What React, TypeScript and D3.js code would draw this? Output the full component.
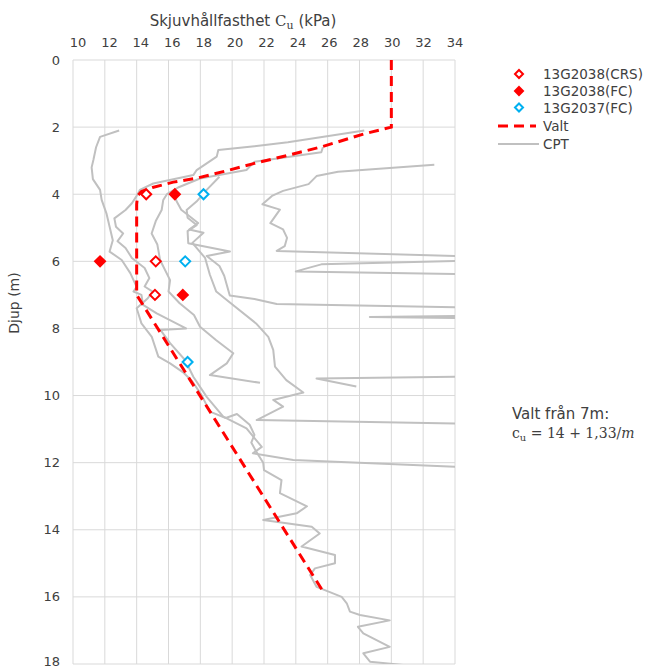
import React from "react";
import * as d3 from "d3";

const xTicks = [10, 12, 14, 16, 18, 20, 22, 24, 26, 28, 30, 32, 34];
const yTicks = [0, 2, 4, 6, 8, 10, 12, 14, 16, 18];

// [cu, depth]
const crs: [number, number][] = [[14.6, 4], [15.2, 6], [15.15, 7]];
const fc2038: [number, number][] = [[16.4, 4], [11.7, 6], [16.9, 7]];
const fc2037: [number, number][] = [[18.2, 4], [17.05, 6], [17.2, 9]];

const valt: [number, number][] = [
  [30, 0], [30, 2], [28.3, 2.2], [25.6, 2.59], [23.5, 2.84], [21.4, 3.08], [19.5, 3.32],
  [17.8, 3.52], [16.3, 3.64], [15.0, 3.8], [14.3, 3.92], [14.05, 4.05], [14, 4.3], [14, 7], [25.7, 15.83],
];

const cpt1: [number, number][] = [
  [12.9, 2.1], [11.7, 2.29], [11.45, 2.6], [11.28, 2.98], [11.17, 3.2], [11.25, 3.55], [11.7, 3.87],
  [11.8, 4.17], [12.1, 4.57], [12.3, 4.97], [12.5, 5.37], [12.3, 5.71], [13.06, 5.96], [13.6, 6.35],
  [14.0, 6.76], [13.8, 6.9], [14.3, 7.0], [14.4, 7.3], [15.26, 7.55], [17.1, 8.0], [15.5, 8.05],
  [16.1, 8.44], [17.04, 8.94], [17.56, 9.44], [18.4, 10.04], [19.44, 10.63], [20.9, 10.98],
  [21.86, 11.53], [21.3, 11.72], [23.84, 11.92], [34, 12.12], [36, 12.13],
];

const cpt2: [number, number][] = [
  [25.7, 2.6], [25.6, 2.75], [21.4, 3.03], [20.9, 3.28], [17.98, 3.53], [16.6, 3.8], [15.9, 4.0],
  [15.67, 4.17], [15.57, 4.47], [15.2, 4.8], [14.94, 5.17], [15.3, 5.5], [15.47, 5.96], [16.1, 6.56],
  [16.0, 6.9], [16.7, 7.25], [17.6, 7.6], [17.98, 7.95], [19.0, 8.35], [20.07, 8.74], [19.66, 9.04],
  [18.6, 9.39], [21.75, 9.62],
];

const cpt3: [number, number][] = [
  [28.3, 2.1], [23.5, 2.45], [21.4, 2.57], [19.13, 2.68], [19.03, 2.88], [17.77, 3.28], [17.56, 3.43],
  [15.04, 3.68], [14.2, 3.87], [14.0, 4.05], [13.7, 4.27], [13.3, 4.47], [12.6, 4.72], [12.7, 4.97],
  [13.15, 5.17], [12.8, 5.4], [13.3, 5.6], [13.7, 5.9], [14.5, 6.2], [14.8, 6.5], [14.5, 6.75],
  [15.0, 6.9], [14.7, 7.1], [14.0, 7.4], [14.3, 7.85], [14.95, 8.25], [15.36, 8.84], [16.1, 9.04],
  [16.9, 9.3], [17.5, 9.58], [18.07, 9.98], [18.6, 10.48], [19.6, 10.67], [20.3, 10.55], [21.1, 10.87],
  [21.4, 11.17], [21.2, 11.4], [21.5, 11.66], [21.95, 12.0], [22.0, 12.22], [23.1, 12.52], [23.0, 12.91],
  [24.7, 13.3], [24.05, 13.51], [21.95, 13.71], [25.0, 13.91], [25.5, 14.11], [24.36, 14.5],
  [26.46, 14.75], [26.46, 15.0], [25.2, 15.15], [24.9, 15.35], [25.3, 15.7], [26.1, 15.85],
  [26.88, 16.0], [27.2, 16.19], [27.4, 16.44], [28.03, 16.54], [29.9, 16.7], [27.9, 16.89],
  [28.24, 17.09], [29.9, 17.49], [28.24, 17.68], [28.66, 17.93], [30.75, 18.03], [32, 18.1],
];

const cpt4: [number, number][] = [
  [19.2, 3.48], [18.4, 3.87], [17.76, 4.22], [17.14, 4.47], [17.2, 4.7], [17.77, 4.92], [17.2, 5.1],
  [17.24, 5.46], [19.86, 5.71], [18.4, 5.84], [19.2, 6.14], [19.5, 6.43], [19.85, 7.02], [21.4, 7.12],
  [22.8, 7.27], [34, 7.37], [36, 7.38],
];

const cpt5: [number, number][] = [
  [16.3, 3.9], [16.5, 4.2], [16.8, 4.46], [17.86, 4.86], [17.3, 5.05], [18.2, 5.15], [17.5, 5.45],
  [18.3, 5.9], [18.6, 6.4], [19.0, 6.9], [19.66, 7.15], [21.5, 7.85], [22.27, 8.25], [22.58, 8.64],
  [22.69, 9.14], [23.4, 9.54], [24.47, 9.91], [22.58, 10.13], [23.2, 10.33], [21.54, 10.73],
  [34, 10.83], [36, 10.84],
];

const cptR: [number, number][] = [
  [32.7, 3.12], [26.65, 3.33], [25.3, 3.46], [24.8, 3.7], [23.2, 3.9], [22.5, 4.05], [21.9, 4.3],
  [23.0, 4.46], [22.4, 4.86], [23.2, 5.05], [23.45, 5.3], [23.3, 5.55], [22.8, 5.69], [34, 5.84],
  [36, 5.86], [36, 5.97], [34, 5.99], [25.6, 6.09], [24.0, 6.3], [34, 6.38], [36, 6.4], [36, 7.62],
  [34, 7.63], [28.65, 7.66], [34, 7.69], [36, 7.7], [36, 9.42], [34, 9.44], [25.3, 9.49], [27.8, 9.73],
];

const cptSeries = [cpt1, cpt2, cpt3, cpt4, cpt5, cptR];

const legendLabels = ["13G2038(CRS)", "13G2038(FC)", "13G2037(FC)", "Valt", "CPT"];

const W = 652;
const H = 669;
const X0 = 73, X1 = 455, Y0 = 60, Y1 = 664;
const FONT = "'DejaVu Sans', Verdana, sans-serif";
const TEXT = "#404040";

function Diamond({ cx, cy, fill, stroke, r = 5 }: { cx: number; cy: number; fill: string; stroke: string; r?: number }) {
  const d = `M${cx},${cy - r}L${cx + r},${cy}L${cx},${cy + r}L${cx - r},${cy}Z`;
  return <path d={d} fill={fill} stroke={stroke} strokeWidth={2} />;
}

export default function App() {
  const x = d3.scaleLinear().domain([10, 34]).range([X0, X1]);
  const xLab = d3.scaleLinear().domain([10, 34]).range([78, 455]);
  const y = d3.scaleLinear().domain([0, 18]).range([Y0, Y1]);
  const line = d3.line<[number, number]>().x((d) => x(d[0])).y((d) => y(d[1]));

  return (
    <svg width={W} height={H} style={{ position: "absolute", left: 0, top: 0, background: "#fff" }}>
      <defs>
        <clipPath id="plot">
          <rect x={X0} y={Y0} width={X1 - X0} height={Y1 - Y0} />
        </clipPath>
      </defs>
      {/* grid */}
      {xTicks.map((t) => (
        <line key={"gx" + t} x1={x(t)} x2={x(t)} y1={Y0} y2={Y1} stroke="#d9d9d9" strokeWidth={1} />
      ))}
      {yTicks.map((t) => (
        <line key={"gy" + t} x1={X0} x2={X1} y1={y(t)} y2={y(t)} stroke="#d9d9d9" strokeWidth={1} />
      ))}
      {/* tick labels */}
      {xTicks.map((t) => (
        <text key={"tx" + t} x={xLab(t)} y={46.5} textAnchor="middle" fontFamily={FONT} fontSize={13} fill={TEXT}>
          {t}
        </text>
      ))}
      {yTicks.map((t) => (
        <text key={"ty" + t} x={60} y={Math.min(y(t) + 4.5, 665.5)} textAnchor="end" fontFamily={FONT} fontSize={13} fill={TEXT}>
          {t}
        </text>
      ))}
      {/* titles */}
      <text x={243} y={26} textAnchor="middle" fontFamily={FONT} fontSize={15} fill={TEXT}>
        Skjuvhållfasthet{" "}
        <tspan fontFamily="'DejaVu Serif', serif">C</tspan>
        <tspan fontFamily="'DejaVu Serif', serif" fontSize={11} dy={3}>u</tspan>
        <tspan dy={-3}> (kPa)</tspan>
      </text>
      <text transform="translate(19,303) rotate(-90)" textAnchor="middle" fontFamily={FONT} fontSize={14} fill={TEXT}>
        Djup (m)
      </text>
      {/* CPT */}
      <g clipPath="url(#plot)">
        {cptSeries.map((s, i) => (
          <path key={"c" + i} d={line(s) || ""} fill="none" stroke="#c0c0c0" strokeWidth={2} strokeLinejoin="round" />
        ))}
      </g>
      {/* Valt */}
      <path d={line(valt) || ""} fill="none" stroke="#ff0000" strokeWidth={3} strokeDasharray="10,6" />
      {/* markers */}
      {crs.map((d, i) => (
        <Diamond key={"crs" + i} cx={x(d[0])} cy={y(d[1])} fill="#fff" stroke="#ff0000" />
      ))}
      {fc2038.map((d, i) => (
        <Diamond key={"fc" + i} cx={x(d[0])} cy={y(d[1])} fill="#ff0000" stroke="#ff0000" />
      ))}
      {fc2037.map((d, i) => (
        <Diamond key={"fc7" + i} cx={x(d[0])} cy={y(d[1])} fill="#fff" stroke="#00b0f0" />
      ))}
      {/* legend */}
      <Diamond cx={519} cy={74} fill="#fff" stroke="#ff0000" r={4} />
      <Diamond cx={519} cy={91} fill="#ff0000" stroke="#ff0000" r={4} />
      <Diamond cx={519} cy={107.5} fill="#fff" stroke="#00b0f0" r={4} />
      <line x1={498} x2={536} y1={126} y2={126} stroke="#ff0000" strokeWidth={3} strokeDasharray="10,6" />
      <line x1={498} x2={539} y1={144} y2={144} stroke="#c0c0c0" strokeWidth={2} />
      {legendLabels.map((s, i) => (
        <text key={s} x={543} y={[78.5, 96, 112.5, 131, 148.5][i]} fontFamily={FONT} fontSize={13.5} fill={TEXT}>
          {s}
        </text>
      ))}
      {/* annotation */}
      <text x={512} y={419} fontFamily={FONT} fontSize={15} fill={TEXT}>
        Valt från 7m:
      </text>
      <text x={512} y={437.5} fontFamily="'DejaVu Serif', serif" fontSize={14} fill={TEXT}>
        c<tspan fontSize={10} dy={3}>u</tspan>
        <tspan dy={-3}> = 14 + 1,33/</tspan>
        <tspan fontStyle="italic">m</tspan>
      </text>
    </svg>
  );
}
